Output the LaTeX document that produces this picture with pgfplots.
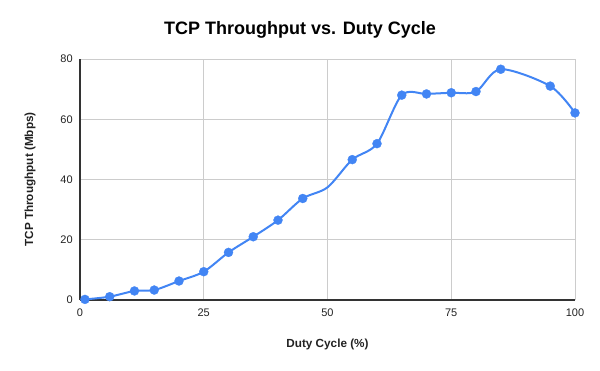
\documentclass[border=0pt]{standalone}
\usepackage{fontspec}
\setmainfont{Liberation Sans}
\usepackage{pgfplots}
\pgfplotsset{compat=1.18}
\definecolor{gblue}{HTML}{4285F4}
\definecolor{gridgray}{HTML}{CCCCCC}
\definecolor{axisdark}{HTML}{333333}
\definecolor{ticktext}{HTML}{222222}

\pgfplotstableread{
x y
1 0.2
6 1.1
11 3.0
15 3.3
20 6.3
25 9.4
30 15.8
35 21.0
40 26.5
45 33.7
50 37.4
55 46.6
60 51.9
65 68.0
70 68.4
75 68.8
80 69.2
85 76.6
95 71.0
100 62.1
}\tcpdata

\begin{document}
\begin{tikzpicture}
\path[use as bounding box] (-60pt,-53.25pt) rectangle (390pt,225pt);
\begin{axis}[
  at={(0,0)}, anchor=south west,
  scale only axis,
  width=371.25pt, height=180.75pt,
  xmin=0, xmax=100, ymin=0, ymax=80,
  xtick={0,25,50,75,100},
  ytick={0,20,40,60,80},
  axis lines=left,
  axis line style={-, draw=axisdark, line width=0.8pt},
  grid=major,
  major grid style={draw=gridgray, line width=0.6pt},
  major tick length=0pt,
  tick label style={font=\fontsize{8.25}{10}\selectfont, text=ticktext},
  /pgf/number format/assume math mode=true,
  xticklabel style={yshift=-3pt},
  yticklabel style={xshift=-2pt},
  xlabel={\textbf{Duty Cycle (\%)}},
  ylabel={\textbf{TCP Throughput (Mbps)}},
  label style={font=\fontsize{8.8}{10}\selectfont, text=ticktext},
  xlabel style={at={(axis description cs:0.5,-0.1826)}, anchor=center},
  ylabel style={at={(axis description cs:-0.101,0.5)}, anchor=center},
  clip=false,
]
% the curve
\addplot[gblue, line width=1.5pt, smooth, tension=0.5, no markers]
  table[x=x, y=y] {\tcpdata};
% the points (no dot at 50)
\addplot[only marks, mark=*, mark size=3.4pt,
  mark options={solid, fill=gblue, draw=gblue, line width=0.2pt},
  mark indices={1,2,3,4,5,6,7,8,9,10,12,13,14,15,16,17,18,19,20}]
  table[x=x, y=y] {\tcpdata};
\end{axis}
\node[font=\fontsize{13.5}{16}\selectfont\bfseries, text=black] at (165pt,202.5pt) {TCP Throughput vs. Duty Cycle};
\end{tikzpicture}
\end{document}
